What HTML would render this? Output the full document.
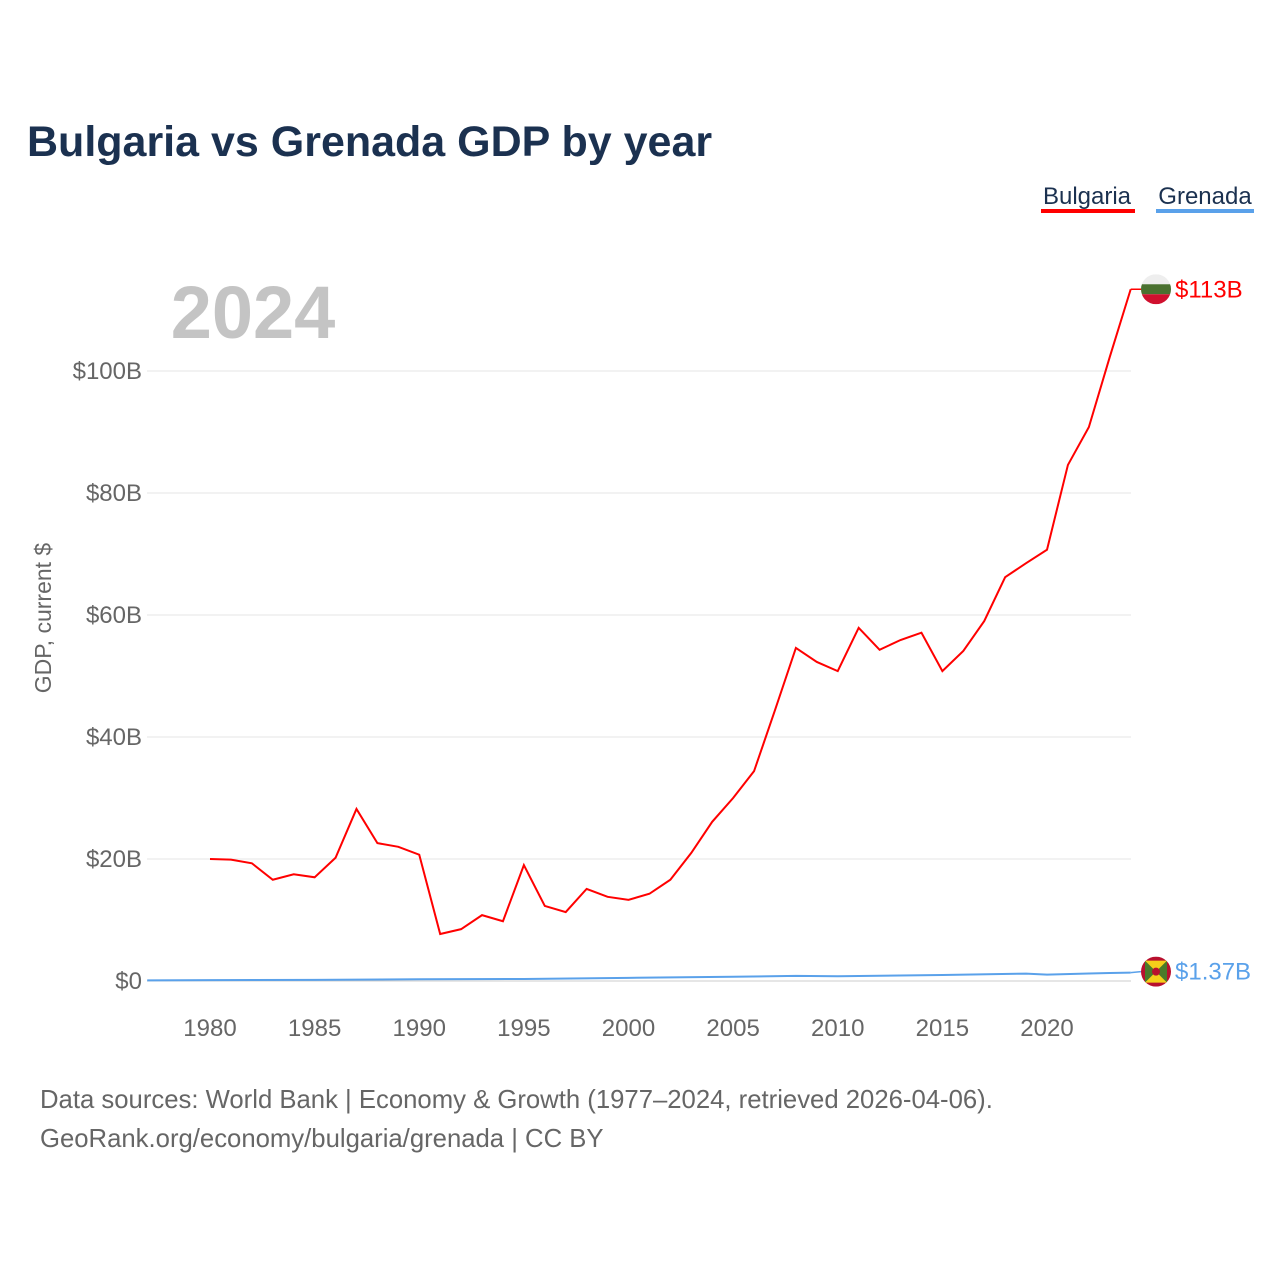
<!DOCTYPE html>
<html><head><meta charset="utf-8"><style>
body{margin:0;background:#fff;font-family:"Liberation Sans",sans-serif}
</style></head><body>
<svg width="1280" height="1280" xmlns="http://www.w3.org/2000/svg">
<text x="27" y="156" font-size="43" font-weight="bold" fill="#1b3150">Bulgaria vs Grenada GDP by year</text>
<g><text x="1087" y="204" font-size="24" fill="#1b3150" text-anchor="middle">Bulgaria</text><rect x="1041" y="209" width="94" height="4" fill="#ff0000"/></g>
<g><text x="1205" y="204" font-size="24" fill="#1b3150" text-anchor="middle">Grenada</text><rect x="1156" y="209" width="98" height="4" fill="#5aa1ea"/></g>
<text x="253" y="338" font-size="74" font-weight="bold" fill="#c4c4c4" text-anchor="middle">2024</text>
<text transform="translate(51,618) rotate(-90)" font-size="23" fill="#666" text-anchor="middle">GDP, current $</text>
<g id="grid"></g><g id="xt"></g><g id="lines"></g>
<text x="40" y="1108" font-size="25.7" fill="#666">Data sources: World Bank | Economy &amp; Growth (1977–2024, retrieved 2026-04-06).</text>
<text x="40" y="1147" font-size="25.7" fill="#666">GeoRank.org/economy/bulgaria/grenada | CC BY</text>
</svg>
<script>
const yearsBg=[1980,1981,1982,1983,1984,1985,1986,1987,1988,1989,1990,1991,1992,1993,1994,1995,1996,1997,1998,1999,2000,2001,2002,2003,2004,2005,2006,2007,2008,2009,2010,2011,2012,2013,2014,2015,2016,2017,2018,2019,2020,2021,2022,2023,2024];
const bulgaria=[20.0,19.9,19.3,16.6,17.5,17.0,20.2,28.2,22.6,22.0,20.7,7.7,8.5,10.8,9.8,19.0,12.3,11.3,15.1,13.8,13.3,14.3,16.6,21.0,26.1,30.0,34.4,44.4,54.6,52.3,50.8,57.9,54.3,55.9,57.1,50.8,54.1,59.0,66.2,68.5,70.7,84.6,90.8,102.3,113.4];
const yearsGd=[1977,1980,1985,1990,1995,2000,2005,2008,2010,2015,2019,2020,2022,2023,2024];
const grenada=[0.1,0.14,0.19,0.28,0.33,0.52,0.69,0.83,0.77,0.99,1.21,1.04,1.23,1.32,1.37];
const yTicks=[0,20,40,60,80,100];
const xTicks=[1980,1985,1990,1995,2000,2005,2010,2015,2020];
const X=y=>210+(y-1980)*20.925, Y=v=>981-v*6.1;
const NS="http://www.w3.org/2000/svg";
function mk(t,a,p){const e=document.createElementNS(NS,t);for(const k in a)e.setAttribute(k,a[k]);p.appendChild(e);return e;}
const grid=document.getElementById('grid'),xt=document.getElementById('xt'),lines=document.getElementById('lines');
yTicks.forEach(v=>{
 const l=mk('line',{x1:147,x2:1131,y1:Y(v),y2:Y(v),stroke:v?'#e6e6e6':'#cccccc','stroke-width':1},grid);
 
 
 const t=mk('text',{x:142,y:Y(v)+8,'font-size':24,fill:'#666','text-anchor':'end'},grid);t.textContent='$'+v+(v?'B':'');
 
 
});
xTicks.forEach(y=>{
 const t=mk('text',{x:X(y),y:1036,'font-size':24,fill:'#666','text-anchor':'middle'},xt);t.textContent=y;
 
 
});
const g=mk('polyline',{points:yearsGd.map((y,i)=>X(y)+','+Y(grenada[i])).join(' '),fill:'none',stroke:'#5aa1ea','stroke-width':2},lines);


const b=mk('polyline',{points:yearsBg.map((y,i)=>X(y)+','+Y(bulgaria[i])).join(' '),fill:'none',stroke:'#ff0000','stroke-width':2},lines);


const lb=bulgaria[bulgaria.length-1],lg=grenada[grenada.length-1];
const by=Y(lb),gy=Y(lg)-1;
mk('line',{x1:X(2024),x2:1141,y1:by,y2:by,stroke:'#ff0000','stroke-width':1.5},lines);
mk('line',{x1:X(2024),x2:1141,y1:Y(lg),y2:gy,stroke:'#5aa1ea','stroke-width':1.5},lines);
const defs=mk('defs',{},lines);
const c1=mk('clipPath',{id:'cb'},defs);mk('circle',{cx:1156,cy:by,r:15},c1);
const c2=mk('clipPath',{id:'cg'},defs);mk('circle',{cx:1156,cy:gy,r:15},c2);
const fb=mk('g',{'clip-path':'url(#cb)'},lines);


mk('rect',{x:1141,y:by-15,width:30,height:10,fill:'#eeeeee'},fb);
mk('rect',{x:1141,y:by-5,width:30,height:10,fill:'#4a7130'},fb);
mk('rect',{x:1141,y:by+5,width:30,height:10,fill:'#d0102e'},fb);
const fg=mk('g',{'clip-path':'url(#cg)'},lines);


mk('rect',{x:1141,y:gy-15,width:30,height:30,fill:'#b8102e'},fg);
mk('rect',{x:1145,y:gy-11,width:22,height:22,fill:'#f5cf1a'},fg);
mk('polygon',{points:`1145,${gy-11} 1156,${gy} 1145,${gy+11}`,fill:'#4a7a2a'},fg);
mk('polygon',{points:`1167,${gy-11} 1156,${gy} 1167,${gy+11}`,fill:'#4a7a2a'},fg);
mk('circle',{cx:1156,cy:gy,r:4,fill:'#b8102e'},fg);
const tb=mk('text',{x:1175,y:by+8,'font-size':24,fill:'#ff0000'},lines);tb.textContent='$'+Math.round(lb)+'B';


const tg=mk('text',{x:1175,y:gy+8,'font-size':24,fill:'#5aa1ea'},lines);tg.textContent='$'+lg.toFixed(2)+'B';


</script>
</body></html>
